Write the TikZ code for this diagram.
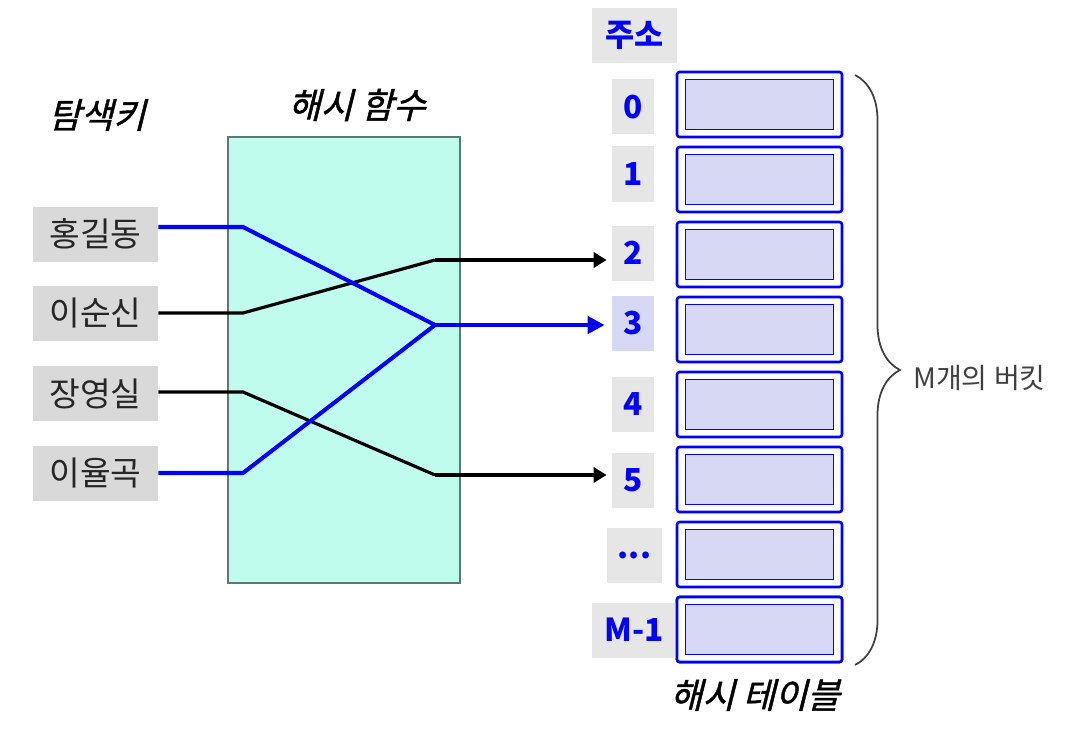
\documentclass[tikz,border=0pt]{standalone}
\usepackage{fontspec}
\setmainfont{Noto Sans CJK KR}
\newfontfamily\krslant{Noto Sans CJK KR}[FakeSlant=0.25, FakeBold=1.2]
\usetikzlibrary{arrows.meta,decorations.pathreplacing}

\definecolor{keygray}{HTML}{D9D9D9}
\definecolor{addrgray}{HTML}{E6E6E6}
\definecolor{hashcyan}{HTML}{C0FCEE}
\definecolor{hashedge}{HTML}{5E7770}
\definecolor{slotfill}{HTML}{D6D8F4}
\definecolor{tblue}{HTML}{0000FF}

\begin{document}
\begin{tikzpicture}[x=0.02cm, y=-0.02cm]
        % Define sizes (one reference pixel)
        \def\px{0.02cm}
        \tikzset{
            keybox/.style={fill=keygray, minimum width=125*\px, minimum height=55*\px,
                inner sep=0pt, text=black!85, font=\fontsize{19}{19}\selectfont},
            addrbox/.style={fill=addrgray, minimum width=42*\px, minimum height=55*\px,
                inner sep=0pt, text=tblue, font=\bfseries\fontsize{18}{18}\selectfont},
            bucketbox/.style={draw=tblue, line width=1.5pt, fill=white, rounded corners=1.5pt,
                minimum width=165*\px, minimum height=65*\px, inner sep=0pt},
            slotbox/.style={draw=tblue, line width=1pt, fill=slotfill,
                minimum width=148*\px, minimum height=50*\px, inner sep=0pt},
            titletext/.style={font=\krslant\fontsize{20}{20}\selectfont},
            blueline/.style={tblue, line width=2.3pt},
            blackline/.style={black, line width=1.8pt},
        }

        \useasboundingbox (0,0) rectangle (1077,733);

        % Hash function box
        \node[fill=hashcyan, draw=hashedge, line width=1pt,
            minimum width=232*\px, minimum height=446*\px, inner sep=0pt] (hash) at (344,360) {};

        % Titles
        \node[titletext] (keytitle) at (97,115) {탐색키};
        \node[titletext] (hashtitle) at (357,105) {해시 함수};
        \node[titletext] (tabletitle) at (755,695) {해시 테이블};

        % Search keys
        \node[keybox] (key1) at (95.5,234) {홍길동};
        \node[keybox] (key2) at (95.5,313.5) {이순신};
        \node[keybox] (key3) at (95.5,393.5) {장영실};
        \node[keybox] (key4) at (95.5,473.5) {이율곡};

        % Bucket table
        \foreach \n in {0,...,7} {
            \node[bucketbox] (bucket\n) at (759.5,104.5+75*\n) {};
            \node[slotbox] (slot\n) at (bucket\n.center) {};
        }

        % Addresses
        \node[addrbox, minimum width=85*\px] (addrtitle) at (634.5,35.5) {주소};
        \node[addrbox] (a0) at (633,107) {0};
        \node[addrbox] (a1) at (633,174) {1};
        \node[addrbox] (a2) at (633,253) {2};
        \node[addrbox, fill=slotfill] (a3) at (633,323) {3};
        \node[addrbox] (a4) at (633,404) {4};
        \node[addrbox] (a5) at (633,480) {5};
        \node[addrbox, minimum width=55*\px] (a6) at (634.5,555) {...};
        \node[addrbox, minimum width=85*\px] (a7) at (634.5,630) {M-1};
        \node[bucketbox] at (bucket7.center) {};
        \node[slotbox] at (bucket7.center) {};

        % Kinks and hubs inside the hash function
        \coordinate (k1) at (243,227);
        \coordinate (k2) at (243,313);
        \coordinate (k3) at (243,392);
        \coordinate (k4) at (243,473);
        \coordinate (h2) at (435,260);
        \coordinate (h3) at (435,325);
        \coordinate (h5) at (435,475);

        % Mapping lines
        \draw[blackline] (key2.east |- k2) -- (k2) -- (h2);
        \draw[blackline] (key3.east |- k3) -- (k3) -- (h5);
        \draw[blueline] (key1.east |- k1) -- (k1) -- (h3);
        \draw[blueline] (key4.east |- k4) -- (k4) -- (h3);
        \draw[blackline, line width=2.3pt, -{Triangle[length=0.26cm, width=0.3cm]}, shorten >=5*\px]
            (h2) -- (h2 -| a2.west);
        \draw[blackline, line width=2.3pt, -{Triangle[length=0.26cm, width=0.3cm]}, shorten >=5*\px]
            (h5) -- (h5 -| a5.west);
        \draw[blueline, line width=2.8pt, -{Triangle[length=0.34cm, width=0.34cm]}, shorten >=7*\px]
            (h3) -- (h3 -| a3.west);

        % Brace over the buckets
        \draw[black!75, line width=1pt, decorate, decoration={brace, amplitude=0.9cm}]
            (855,75) -- (855,665) coordinate[midway] (bracemid);
        \node[text=black!75, font=\fontsize{16}{16}\selectfont, anchor=west] (mlabel)
            at (907,378) {M개의 버킷};
    \end{tikzpicture}
\end{document}
